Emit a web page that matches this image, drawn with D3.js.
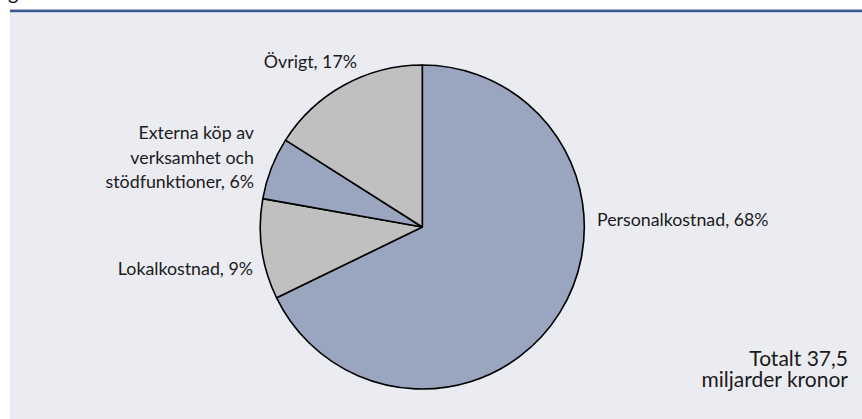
<!DOCTYPE html>
<html><head><meta charset="utf-8">
<script src="https://cdn.jsdelivr.net/npm/d3@7/dist/d3.min.js"></script>
<style>
html,body{margin:0;padding:0;background:#fff;}
svg{display:block;font-family:Lato,"Open Sans",sans-serif;}
</style></head>
<body>
<svg id="c" width="862" height="419"></svg>
<script>
// Data
const categories = ["Personalkostnad", "Lokalkostnad", "Externa köp av verksamhet och stödfunktioner", "Övrigt"];
const values = [67.8, 10.0, 6.2, 16.0];           // slice shares as drawn
const percentLabels = ["68%", "9%", "6%", "17%"]; // shares as labelled
const labelLines = [
  ["Personalkostnad, 68%"],
  ["Lokalkostnad, 9%"],
  ["Externa köp av", "verksamhet och", "stödfunktioner, 6%"],
  ["Övrigt, 17%"]
];
const totalLines = ["Totalt 37,5", "miljarder kronor"];
const sliceColors = ["#9aa5c0", "#c0c0c0", "#9aa5c0", "#c0c0c0"];

const svg = d3.select("#c");
const W = 862, H = 419;

// title remnant at very top (cut off in the original)
svg.append("text").attr("x", 8).attr("y", 0).attr("font-size", 20).attr("fill", "#111").text("g");

// header rule
svg.append("rect").attr("x", 10).attr("y", 9).attr("width", W - 10).attr("height", 1).attr("fill", "#a9b3cc");
svg.append("rect").attr("x", 10).attr("y", 10).attr("width", W - 10).attr("height", 2.5).attr("fill", "#3c5890");
// panel
svg.append("rect").attr("x", 10).attr("y", 12.5).attr("width", W - 10).attr("height", H - 12.5).attr("fill", "#ebecf2");

const cx = 422.3, cy = 227, r = 162;
const pie = d3.pie().sort(null).value(d => d)(values);
const arc = d3.arc().innerRadius(0).outerRadius(r);
const g = svg.append("g").attr("transform", `translate(${cx},${cy})`);
g.selectAll("path").data(pie).join("path")
  .attr("d", arc)
  .attr("fill", (d, i) => sliceColors[i])
  .attr("stroke", "#000")
  .attr("stroke-width", 1.6)
  .attr("stroke-linejoin", "round");

// labels
const labelPos = [
  {x: 597, y: 226, anchor: "start"},
  {x: 253, y: 275, anchor: "end"},
  {x: 254, y: 139, anchor: "end"},
  {x: 357, y: 68, anchor: "end"}
];
const lineH = 24.5;
labelLines.forEach((lines, i) => {
  const p = labelPos[i];
  const t = svg.append("text").attr("text-anchor", p.anchor).attr("font-size", 17.8).attr("fill", "#1a1a1a");
  lines.forEach((s, j) => {
    t.append("tspan").attr("x", p.x).attr("y", p.y + j * lineH).text(s);
  });
});

// total note
const tt = svg.append("text").attr("text-anchor", "end").attr("font-size", 21).attr("fill", "#1a1a1a");
totalLines.forEach((s, j) => {
  tt.append("tspan").attr("x", 848).attr("y", 366 + j * 20.5).text(s);
});
</script>
</body></html>
